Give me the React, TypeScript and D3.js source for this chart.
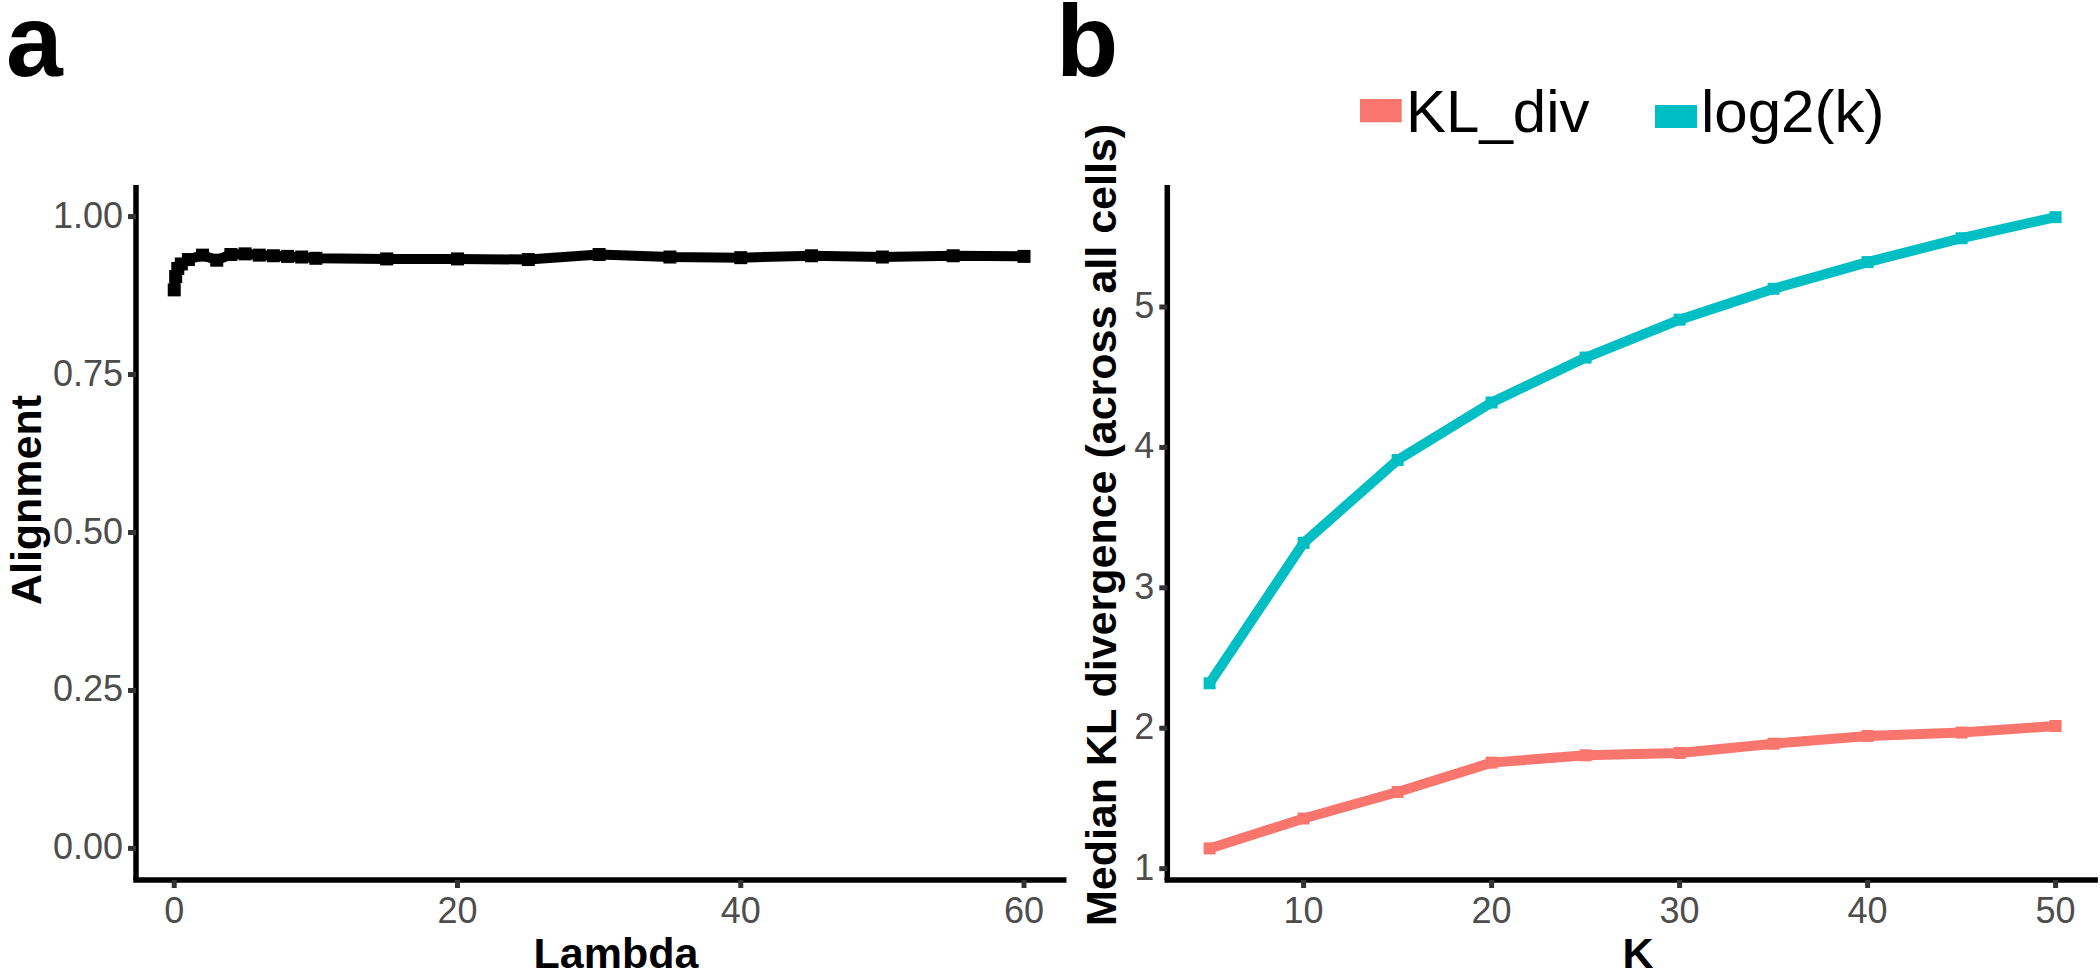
import React from "react";
import * as d3 from "d3";

// Panel a data
const lambdaVals = [0, 0.1, 0.25, 0.5, 1, 2, 3, 4, 5, 6, 7, 8, 9, 10, 15, 20, 25, 30, 35, 40, 45, 50, 55, 60];
const alignmentVals = [0.884, 0.905, 0.918, 0.925, 0.932, 0.939, 0.931, 0.94, 0.941, 0.939, 0.938, 0.937, 0.936, 0.934, 0.933, 0.933, 0.932, 0.94, 0.936, 0.935, 0.938, 0.936, 0.938, 0.937];
const aYTicks = [0, 0.25, 0.5, 0.75, 1];
const aYTickLabels = ["0.00", "0.25", "0.50", "0.75", "1.00"];
const aXTicks = [0, 20, 40, 60];

// Panel b data
const kVals = [5, 10, 15, 20, 25, 30, 35, 40, 45, 50];
const klDivVals = [1.144, 1.357, 1.546, 1.755, 1.807, 1.824, 1.89, 1.945, 1.969, 2.016];
const log2kVals = [2.32, 3.32, 3.91, 4.32, 4.64, 4.91, 5.13, 5.32, 5.49, 5.64];
const bYTicks = [1, 2, 3, 4, 5];
const bXTicks = [10, 20, 30, 40, 50];
const seriesNames = ["KL_div", "log2(k)"];
const seriesColors = ["#F8766D", "#00BFC4"];

const FONT = "'Liberation Sans', Arial, Helvetica, sans-serif";

export default function App() {
  const xA = d3.scaleLinear().domain([-2.7, 63]).range([136, 1066.5]);
  const yA = d3.scaleLinear().domain([-0.05, 1.05]).range([880, 185]);
  const xB = d3.scaleLinear().domain([2.75, 52.25]).range([1167.3, 2097.9]);
  const yB = d3.scaleLinear().domain([0.919, 5.869]).range([880, 185]);

  const lineA = d3
    .line<number>()
    .x((_, i) => xA(lambdaVals[i]))
    .y((d) => yA(d));
  const lineB = d3
    .line<number>()
    .x((_, i) => xB(kVals[i]))
    .y((d) => yB(d));

  const lw = 10;
  const ms = 13;
  const tickColor = "#333333";
  const labelColor = "#4D4D4D";

  const yAxis = (
    x: number,
    yTop: number,
    yBot: number,
    ticks: number[],
    labels: string[],
    scale: (v: number) => number
  ) => (
    <g>
      <line x1={x} x2={x} y1={yTop} y2={yBot} stroke="#000" strokeWidth={5.5} />
      {ticks.map((t, i) => (
        <g key={i}>
          <line x1={x - 8} x2={x} y1={scale(t)} y2={scale(t)} stroke={tickColor} strokeWidth={5} />
          <text
            x={x - 13}
            y={scale(t) + 11}
            textAnchor="end"
            fontSize={36}
            fontFamily={FONT}
            fill={labelColor}
          >
            {labels[i]}
          </text>
        </g>
      ))}
    </g>
  );

  const xAxis = (
    y: number,
    xLeft: number,
    xRight: number,
    ticks: number[],
    scale: (v: number) => number
  ) => (
    <g>
      <line x1={xLeft} x2={xRight} y1={y} y2={y} stroke="#000" strokeWidth={5.5} />
      {ticks.map((t, i) => (
        <g key={i}>
          <line x1={scale(t)} x2={scale(t)} y1={y} y2={y + 8} stroke={tickColor} strokeWidth={5} />
          <text
            x={scale(t)}
            y={923}
            textAnchor="middle"
            fontSize={36}
            fontFamily={FONT}
            fill={labelColor}
          >
            {String(t)}
          </text>
        </g>
      ))}
    </g>
  );

  const bSeries = [klDivVals, log2kVals];

  return (
    <svg
      width={2100}
      height={977}
      style={{ position: "absolute", left: 0, top: 0, background: "#fff" }}
    >
      <rect x={0} y={0} width={2100} height={977} fill="#fff" />
      {/* Panel letters */}
      <text x={6} y={76} fontSize={102} fontWeight="bold" fontFamily={FONT} fill="#000">
        a
      </text>
      <text x={1056} y={76} fontSize={102} fontWeight="bold" fontFamily={FONT} fill="#000">
        b
      </text>

      {/* Panel a */}
      <path
        d={lineA(alignmentVals) || ""}
        fill="none"
        stroke="#000"
        strokeWidth={lw}
        strokeLinejoin="round"
      />
      {alignmentVals.map((v, i) => (
        <rect
          key={i}
          x={xA(lambdaVals[i]) - ms / 2}
          y={yA(v) - ms / 2}
          width={ms}
          height={ms}
          fill="#000"
        />
      ))}
      {yAxis(136, 185, 880, aYTicks, aYTickLabels, yA)}
      {xAxis(880, 133.25, 1066.5, aXTicks, xA)}
      <text x={616} y={968} textAnchor="middle" fontSize={43} fontWeight="bold" fontFamily={FONT} fill="#000">
        Lambda
      </text>
      <text
        transform="translate(41,500) rotate(-90)"
        textAnchor="middle"
        fontSize={43}
        fontWeight="bold"
        fontFamily={FONT}
        fill="#000"
      >
        Alignment
      </text>

      {/* Panel b */}
      {bSeries.map((s, si) => (
        <g key={si}>
          <path
            d={lineB(s) || ""}
            fill="none"
            stroke={seriesColors[si]}
            strokeWidth={lw}
            strokeLinejoin="round"
          />
          {s.map((v, i) => (
            <rect
              key={i}
              x={xB(kVals[i]) - 6}
              y={yB(v) - 6}
              width={12}
              height={12}
              fill={seriesColors[si]}
            />
          ))}
        </g>
      ))}
      {yAxis(1167.3, 185, 880, bYTicks, bYTicks.map(String), yB)}
      {xAxis(880, 1164.55, 2097.9, bXTicks, xB)}
      <text x={1638} y={968} textAnchor="middle" fontSize={43} fontWeight="bold" fontFamily={FONT} fill="#000">
        K
      </text>
      <text
        transform="translate(1116,525) rotate(-90)"
        textAnchor="middle"
        fontSize={43}
        fontWeight="bold"
        fontFamily={FONT}
        fill="#000"
      >
        Median KL divergence (across all cells)
      </text>

      {/* Legend */}
      <rect x={1360} y={99} width={41.7} height={23.3} fill={seriesColors[0]} />
      <text x={1406} y={131.7} fontSize={60} fontFamily={FONT} fill="#000">
        {seriesNames[0]}
      </text>
      <rect x={1655} y={105} width={42} height={23} fill={seriesColors[1]} />
      <text x={1701} y={131.7} fontSize={60} fontFamily={FONT} fill="#000">
        {seriesNames[1]}
      </text>
    </svg>
  );
}
